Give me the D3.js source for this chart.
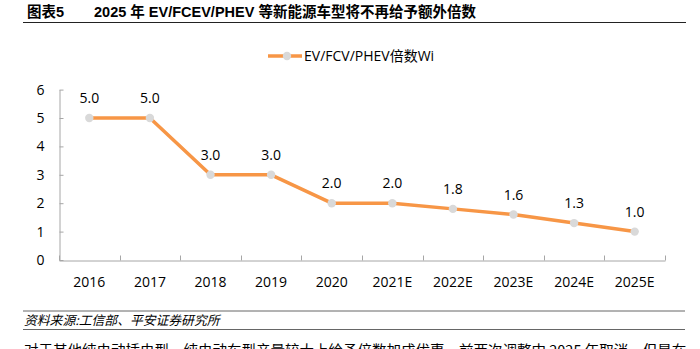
<!DOCTYPE html>
<html>
  <head>
    <meta charset="utf-8">
    <title>2025 年 EV/FCEV/PHEV 倍数</title>
    <script src="https://d3js.org/d3.v7.min.js"></script>
    <style>
      body { margin: 0; background: #fff; }
      svg { display: block; }
      .tick text { font-family: "Open Sans", "Noto Sans", sans-serif; font-size: 14px; fill: #000; }
    </style>
  </head>
  <body>
    <svg id="chart" width="700" height="349"></svg>
    <script>
      // data
      var years = ["2016", "2017", "2018", "2019", "2020", "2021E", "2022E", "2023E", "2024E", "2025E"];
      var multiples = [5.0, 5.0, 3.0, 3.0, 2.0, 2.0, 1.8, 1.6, 1.3, 1.0];
      var yTicks = [0, 1, 2, 3, 4, 5, 6];
      var seriesName = "EV/FCV/PHEV倍数Wi";

      var orange = "#f79646";
      var marker = "#d9d9d9";
      var axisGrey = "#a6a6a6";
      var cjk = "'Liberation Sans', 'Noto Sans CJK SC', sans-serif";

      var svg = d3.select("#chart");

      // header
      var head = svg.append("g");
      head.append("text")
        .attr("x", 27).attr("y", 17)
        .style("font-family", cjk).style("font-weight", "bold").style("font-size", "14.5px")
        .text("图表5");
      head.append("text")
        .attr("x", 94).attr("y", 17)
        .style("font-family", cjk).style("font-weight", "bold").style("font-size", "14.5px")
        .text("2025 年 EV/FCEV/PHEV 等新能源车型将不再给予额外倍数");
      head.append("line")
        .attr("x1", 23).attr("x2", 686).attr("y1", 22.5).attr("y2", 22.5)
        .attr("stroke", "#222").attr("stroke-width", 1);

      // scales
      var x = d3.scaleBand().domain(years).range([59, 665]);
      var y = d3.scaleLinear().domain([0, 6]).range([260, 89.6]);

      // y axis
      var yAxis = d3.axisLeft(y).tickValues(yTicks).tickFormat(d3.format("d"))
        .tickSizeInner(-4).tickSizeOuter(0).tickPadding(15);
      var yg = svg.append("g").attr("transform", "translate(59.5,0)").call(yAxis);
      yg.selectAll("path, line").attr("stroke", axisGrey);

      // x axis: labels centred in bands, ticks on band edges
      var xAxis = d3.axisBottom(x).tickSize(0).tickPadding(17);
      var xg = svg.append("g").attr("transform", "translate(0,260.5)").call(xAxis);
      xg.select(".domain").attr("stroke", axisGrey);
      var edges = years.map(function(d) { return x(d); }).concat([x.range()[1]]);
      xg.selectAll(".edge")
        .data(edges)
        .enter().append("line")
          .attr("class", "edge")
          .attr("x1", function(d) { return Math.round(d) + 0.5; })
          .attr("x2", function(d) { return Math.round(d) + 0.5; })
          .attr("y1", 0).attr("y2", -5)
          .attr("stroke", axisGrey);

      // series
      var pts = years.map(function(d, i) { return { year: d, value: multiples[i] }; });
      var cx = function(d) { return x(d.year) + x.bandwidth() / 2; };

      svg.append("path")
        .datum(pts)
        .attr("fill", "none")
        .attr("stroke", orange)
        .attr("stroke-width", 3.5)
        .attr("stroke-linejoin", "round")
        .attr("d", d3.line().x(cx).y(function(d) { return y(d.value); }));

      svg.selectAll(".dot")
        .data(pts)
        .enter().append("circle")
          .attr("class", "dot")
          .attr("cx", cx)
          .attr("cy", function(d) { return y(d.value); })
          .attr("r", 4.2)
          .attr("fill", marker);

      svg.selectAll(".val")
        .data(pts)
        .enter().append("text")
          .attr("class", "val")
          .attr("x", cx)
          .attr("y", function(d) { return y(d.value) - 15; })
          .attr("text-anchor", "middle")
          .style("font-family", "'Open Sans', 'Noto Sans', sans-serif")
          .style("font-size", "14px")
          .text(function(d) { return d3.format(".1f")(d.value); });

      // legend
      var lg = svg.append("g").attr("transform", "translate(268,56)");
      lg.append("line").attr("x1", 0).attr("x2", 34).attr("stroke", orange).attr("stroke-width", 3.5);
      lg.append("circle").attr("cx", 19).attr("r", 4.2).attr("fill", marker);
      lg.append("text")
        .attr("x", 36).attr("dy", "0.36em")
        .style("font-family", "'Open Sans', 'Noto Sans CJK SC', sans-serif")
        .style("font-size", "14px")
        .text(seriesName);

      // source note
      svg.append("line")
        .attr("x1", 23).attr("x2", 685).attr("y1", 311).attr("y2", 311)
        .attr("stroke", "#666").attr("stroke-width", 1);
      svg.append("text")
        .attr("x", 24).attr("y", 325)
        .style("font-family", "'Noto Sans CJK SC', sans-serif")
        .style("font-size", "12.8px").style("font-style", "italic")
        .text("资料来源:工信部、平安证券研究所");
      svg.append("line")
        .attr("x1", 23).attr("x2", 685).attr("y1", 329.5).attr("y2", 329.5)
        .attr("stroke", "#666").attr("stroke-width", 1);

      // start of the following paragraph, running off the bottom edge
      svg.append("text")
        .attr("x", 24).attr("y", 356)
        .style("font-family", "'Noto Sans CJK SC', sans-serif")
        .style("font-size", "14.5px")
        .text("对于其他纯电动插电型，纯电动车型产量较大上给予倍数加成优惠，前两次调整中 2025 年取消，但是在");
    </script>
  </body>
</html>
